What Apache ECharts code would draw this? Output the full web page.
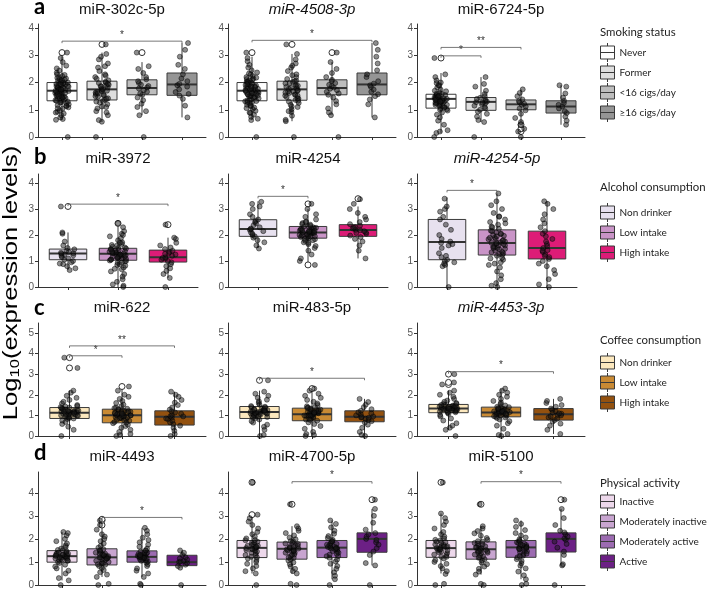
<!DOCTYPE html>
<html><head><meta charset="utf-8">
<script src="https://cdn.jsdelivr.net/npm/echarts@6/dist/echarts.min.js"></script>
<style>html,body{margin:0;padding:0;background:#fff}#c{width:708px;height:593px}</style>
</head><body><div id="c"></div><script>
// ---------- categories & tick labels ----------
const smokingCats = ['Never','Former','<16 cigs/day','≥16 cigs/day'];
const alcoholCats = ['Non drinker','Low intake','High intake'];
const coffeeCats = ['Non drinker','Low intake','High intake'];
const activityCats = ['Inactive','Moderately inactive','Moderately active','Active'];
const yTicks4 = [0,1,2,3,4];
const yTicks5 = [0,1,2,3,4,5];
const panelTitles = ['miR-302c-5p','miR-4508-3p','miR-6724-5p','miR-3972','miR-4254','miR-4254-5p','miR-622','miR-483-5p','miR-4453-3p','miR-4493','miR-4700-5p','miR-5100'];
const italicTitles = [false,true,false,false,false,true,false,false,true,false,false,false];
const legendTitles = ['Smoking status','Alcohol consumption','Coffee consumption','Physical activity'];
const panelLetters = ['a','b','c','d'];

// ---------- box stats [lower whisker, Q1, median, Q3, upper whisker] ----------
const a1Box = [[0.62,1.33,1.70,2.00,2.95],[0.55,1.36,1.75,2.05,3.10],[0.80,1.55,1.80,2.10,2.75],[0.72,1.53,1.93,2.35,3.45]];
const a2Box = [[0.62,1.33,1.70,2.00,2.95],[0.58,1.35,1.75,2.05,3.05],[0.80,1.55,1.80,2.10,2.75],[0.72,1.55,1.93,2.35,3.45]];
const a3Box = [[0.15,1.06,1.40,1.57,2.35],[0.55,0.98,1.29,1.45,2.20],[0.55,1.00,1.20,1.36,1.75],[0.45,0.88,1.12,1.33,1.90]];
const b1Box = [[0.65,1.05,1.29,1.46,2.10],[0,1.03,1.28,1.49,2.40],[0.35,0.96,1.15,1.42,1.90]];
const b2Box = [[1.50,1.95,2.23,2.59,3.30],[0.85,1.88,2.10,2.33,3.00],[1.10,1.95,2.19,2.40,3.10]];
const b3Box = [[0,1.05,1.73,2.60,3.45],[0,1.23,1.69,2.20,3.60],[0,1.08,1.50,2.15,3.30]];
const c1Box = [[0,0.85,1.13,1.38,2.20],[0,0.64,1.01,1.30,2.30],[0,0.53,0.93,1.22,2.15]];
const c2Box = [[0,0.85,1.16,1.43,2.20],[0,0.74,1.06,1.35,2.30],[0,0.69,0.93,1.22,1.80]];
const c3Box = [[0.30,1.13,1.33,1.53,2.20],[0,0.93,1.14,1.40,2.30],[0.10,0.77,1.05,1.33,1.80]];
const d1Box = [[0.20,0.99,1.25,1.49,2.30],[0.35,0.87,1.20,1.57,2.50],[0.35,0.99,1.22,1.48,2.48],[0.75,0.84,0.99,1.29,1.50]];
const d2Box = [[0.50,1.19,1.61,1.93,2.95],[0.50,1.12,1.57,1.86,2.55],[0.25,1.19,1.62,1.93,2.80],[0.85,1.42,2.00,2.26,3.30]];
const d3Box = [[0.50,1.20,1.60,1.93,3.10],[0.45,1.12,1.55,1.87,2.55],[0.25,1.20,1.63,1.93,2.80],[0.85,1.43,2.00,2.26,3.30]];

// ---------- outliers (open circles) ----------
const a1Out = [[3.1],[3.4],[3.1],[]];
const a2Out = [[3.1],[3.4],[3.1],[]];
const a3Out = [[2.9],[],[0.2,0.3,0.45],[]];
const b1Out = [[3.1],[2.45],[2.4]];
const b2Out = [[],[0.85,3.2],[3.4]];
const b3Out = [[],[],[]];
const c1Out = [[3.3,3.8],[2.4],[]];
const c2Out = [[2.7],[2.3],[]];
const c3Out = [[2.5,2.6,3.0],[],[]];
const d1Out = [[],[2.6,2.8,2.85],[],[]];
const d2Out = [[3.05,4.45],[3.5],[],[3.7]];
const d3Out = [[4.45],[3.5],[],[3.7]];

// ---------- individual points ----------
const a1Pts = [
 [0,0.63,0.66,0.72,0.8,0.86,0.93,0.98,1.04,1.09,1.13,1.17,1.2,1.24,1.28,1.3,1.34,1.37,1.4,1.43,1.45,1.48,1.51,1.54,1.57,1.59,1.62,1.64,1.67,1.69,1.72,1.75,1.77,1.8,1.82,1.85,1.88,1.91,1.94,1.97,2.0,2.03,2.07,2.11,2.15,2.19,2.24,2.3,2.36,2.44,2.52,2.62,2.75,2.9,3.1,1.55,1.73,1.6,1.84,1.41,1.95,
  1.15,1.35,1.52,1.66,1.78,1.9,2.02,2.12,1.26,1.46,1.58,1.7,1.81,1.99,2.17,2.28,1.05,0.9,1.62,1.74,1.87,1.5,1.33,1.95,2.08],
 [0,0.56,0.62,0.8,0.95,1.05,1.12,1.2,1.26,1.32,1.37,1.42,1.48,1.53,1.58,1.63,1.68,1.73,1.77,1.82,1.87,1.92,1.98,2.03,2.08,2.14,2.2,2.3,2.42,2.55,2.7,2.85,2.95,3.05,3.4,1.5,1.75,1.9,1.65,
  1.1,1.4,1.6,1.85,2.0,2.25,1.7,1.3,2.6,0.9,1.95,1.55],
 [0,0.8,0.95,1.1,1.22,1.35,1.45,1.55,1.6,1.66,1.72,1.78,1.82,1.87,1.92,1.98,2.05,2.12,2.2,2.35,2.5,2.6,3.1],
 [0.72,1.15,1.4,1.52,1.58,1.65,1.75,1.85,1.9,1.95,2.05,2.15,2.3,2.5,2.65,2.95,3.2,3.45]];
const a2Pts = [
 [0,0.62,0.67,0.74,0.82,0.9,0.96,1.03,1.08,1.13,1.18,1.23,1.27,1.31,1.34,1.38,1.42,1.45,1.49,1.52,1.56,1.59,1.62,1.65,1.68,1.71,1.74,1.77,1.8,1.83,1.86,1.89,1.93,1.96,2.0,2.04,2.08,2.13,2.18,2.24,2.3,2.37,2.45,2.55,2.65,2.78,2.9,3.1,1.58,1.72,1.64,1.82,1.45,1.98,
  1.16,1.36,1.5,1.64,1.79,1.91,2.03,2.14,1.28,1.47,1.57,1.69,1.83,2.0,2.2,2.33,1.06,0.88,1.61,1.75,1.86,1.53,1.32,1.94,2.1],
 [0,0.58,0.63,0.78,0.92,1.02,1.1,1.18,1.25,1.3,1.36,1.41,1.47,1.52,1.57,1.62,1.67,1.72,1.77,1.81,1.86,1.91,1.97,2.02,2.07,2.13,2.2,2.3,2.42,2.55,2.7,2.85,3.05,3.4,1.55,1.78,1.88,1.68,
  1.12,1.42,1.63,1.84,2.05,2.27,1.7,1.33,2.62,0.95,1.98,1.52],
 [0,0.8,0.9,1.05,1.2,1.32,1.45,1.55,1.6,1.66,1.72,1.77,1.82,1.87,1.92,1.98,2.05,2.1,2.2,2.35,2.5,2.75,3.1],
 [0.72,1.2,1.38,1.5,1.57,1.66,1.74,1.84,1.9,1.96,2.05,2.2,2.3,2.45,2.7,2.95,3.2,3.45]];
const a3Pts = [
 [0,0.15,0.2,0.25,0.45,0.6,0.72,0.82,0.9,0.97,1.02,1.06,1.1,1.14,1.18,1.22,1.26,1.3,1.33,1.36,1.39,1.42,1.45,1.48,1.51,1.54,1.58,1.62,1.68,1.74,1.82,1.9,1.98,2.08,2.2,2.3,2.9,1.25,1.4,1.35,1.5,1.2,1.44,
  1.15,1.28,1.38,1.46,1.55,1.32,1.24,1.42,1.6,1.7,1.08,1.0,1.36,1.48,1.18,1.9,2.0,1.52,1.3,1.4],
 [0,0.55,0.62,0.75,0.85,0.93,1.0,1.05,1.1,1.15,1.2,1.24,1.28,1.32,1.36,1.4,1.44,1.5,1.58,1.7,1.85,1.95,2.2,1.3,1.26],
 [0,0.2,0.3,0.45,0.55,0.7,0.85,0.98,1.05,1.12,1.18,1.22,1.27,1.32,1.38,1.5,1.62,1.75],
 [0.45,0.6,0.75,0.88,0.95,1.05,1.12,1.18,1.25,1.33,1.45,1.6,1.85,1.9]];
const b1Pts = [
 [0.65,0.72,0.8,0.88,0.95,1.0,1.05,1.1,1.15,1.2,1.25,1.28,1.3,1.35,1.4,1.45,1.5,1.6,1.75,2.05,2.1,3.1,1.22,0.9,1.32],
 [0,0.05,0.1,0.2,0.3,0.4,0.5,0.6,0.68,0.75,0.82,0.88,0.93,0.98,1.02,1.06,1.1,1.14,1.18,1.22,1.26,1.3,1.34,1.38,1.42,1.46,1.5,1.55,1.6,1.66,1.72,1.8,1.88,1.95,2.05,2.15,2.3,2.45,1.24,1.16,1.32,1.08,1.4,
  1.0,1.12,1.2,1.28,1.36,1.44,1.52,0.95,0.85,1.62,1.7,1.3,1.18,1.05,1.48,1.25,0.7,2.0,1.35,1.15],
 [0,0.35,0.5,0.62,0.72,0.8,0.88,0.95,1.0,1.05,1.1,1.15,1.2,1.25,1.3,1.35,1.4,1.46,1.52,1.6,1.7,1.85,1.9,2.4,1.12,1.28]];
const b2Pts = [
 [1.48,1.6,1.72,1.8,1.9,1.95,2.0,2.05,2.1,2.15,2.2,2.22,2.25,2.3,2.38,2.45,2.5,2.55,2.6,2.7,2.8,3.0,3.1,3.2,3.28],
 [0.85,1.0,1.1,1.25,1.4,1.5,1.58,1.65,1.72,1.78,1.84,1.88,1.92,1.96,2.0,2.03,2.06,2.09,2.12,2.15,2.18,2.22,2.26,2.3,2.34,2.4,2.46,2.52,2.6,2.7,2.8,3.0,3.2,2.1,2.0,2.2,1.95,2.14,
  1.9,1.98,2.05,2.11,2.17,2.24,2.28,2.36,1.85,1.8,2.42,2.02,2.13,2.2,1.7,2.5,2.08,1.94,2.32,2.16],
 [1.1,1.4,1.6,1.75,1.85,1.92,1.98,2.05,2.1,2.15,2.2,2.25,2.3,2.36,2.42,2.5,2.6,2.7,2.85,3.0,3.2,3.38,2.18,2.08,2.28]];
const b3Pts = [
 [0,0.8,0.85,0.9,1.0,1.05,1.15,1.3,1.5,1.6,1.7,1.75,1.85,2.0,2.2,2.4,2.6,2.7,2.9,3.0,3.1,3.4,1.2,0.95,1.65],
 [0,0.05,0.15,0.3,0.45,0.6,0.75,0.85,0.95,1.05,1.12,1.2,1.27,1.34,1.4,1.47,1.54,1.6,1.66,1.72,1.78,1.84,1.9,1.97,2.04,2.1,2.17,2.24,2.32,2.4,2.5,2.6,2.72,2.85,3.0,3.15,3.3,3.6,1.7,1.5,1.9,1.3,
  1.45,1.55,1.65,1.75,1.85,2.0,2.15,1.25,1.35,1.6,2.3,2.45,1.1,1.8,0.9,2.7,1.95,1.5,2.05,1.7],
 [0,0.1,0.3,0.5,0.65,0.8,0.9,1.0,1.08,1.15,1.25,1.35,1.42,1.5,1.58,1.66,1.75,1.85,1.95,2.05,2.15,2.3,2.45,2.6,2.8,3.0,3.2,3.3,1.4,1.2]];
const c1Pts = [
 [0,0.3,0.45,0.58,0.68,0.75,0.82,0.87,0.92,0.96,1.0,1.04,1.08,1.12,1.15,1.18,1.22,1.26,1.3,1.34,1.38,1.43,1.5,1.58,1.66,1.75,1.85,1.95,2.1,2.2,3.3,3.8,1.1,1.2,1.0,1.16,0.9,
  1.05,1.14,1.2,1.24,1.28,1.1,0.98,1.32,1.4,0.85,1.06,1.18,1.45,0.95,1.22],
 [0,0.05,0.1,0.2,0.3,0.4,0.48,0.55,0.62,0.68,0.74,0.8,0.86,0.92,0.97,1.02,1.07,1.12,1.17,1.22,1.27,1.32,1.38,1.45,1.52,1.6,1.7,1.8,1.9,2.0,2.2,2.4,1.0,0.9,1.1,0.8,1.15,
  0.9,0.95,1.05,1.0,1.1,1.2,0.85,0.75,1.25,1.3,0.65,1.15,0.98,1.35,1.08],
 [0,0.1,0.25,0.4,0.5,0.58,0.66,0.74,0.82,0.9,0.96,1.02,1.08,1.14,1.2,1.28,1.38,1.5,1.62,1.75,1.9,2.0,2.15,0.95,0.85]];
const c2Pts = [
 [0,0.05,0.3,0.45,0.55,0.65,0.72,0.8,0.86,0.92,0.97,1.02,1.06,1.1,1.14,1.18,1.22,1.26,1.3,1.35,1.4,1.45,1.52,1.6,1.68,1.76,1.85,1.95,2.05,2.15,2.7,1.2,1.1,1.28,1.0,
  1.0,1.08,1.12,1.16,1.24,1.3,1.2,1.05,1.38,0.9,1.42,1.15,1.28,0.95,1.22],
 [0,0.05,0.1,0.2,0.35,0.48,0.58,0.66,0.74,0.8,0.86,0.92,0.97,1.02,1.06,1.1,1.14,1.18,1.23,1.28,1.33,1.38,1.44,1.5,1.58,1.66,1.75,1.85,1.95,2.05,2.2,2.3,1.08,1.0,1.15,0.95,1.2,
  1.0,1.04,1.12,1.16,1.2,0.9,1.25,1.3,0.84,1.08,1.36,0.98,1.14,0.78,1.4],
 [0,0.05,0.2,0.4,0.55,0.65,0.72,0.78,0.84,0.9,0.95,1.0,1.05,1.1,1.15,1.22,1.3,1.4,1.52,1.65,1.8,0.92,0.88]];
const c3Pts = [
 [0,0.3,0.4,0.5,0.62,0.75,0.85,0.95,1.02,1.08,1.13,1.17,1.21,1.25,1.28,1.31,1.34,1.37,1.4,1.43,1.47,1.51,1.55,1.6,1.66,1.72,1.8,1.9,2.0,2.1,2.2,2.5,2.6,3.0,1.3,1.36,1.26,1.45,
  1.22,1.3,1.35,1.4,1.27,1.33,1.38,1.45,1.18,1.5,1.24,1.42,1.15,1.56,1.32],
 [0,0.05,0.1,0.35,0.5,0.62,0.72,0.8,0.87,0.93,0.98,1.03,1.08,1.12,1.16,1.2,1.24,1.28,1.32,1.37,1.42,1.48,1.55,1.62,1.7,1.8,1.9,2.0,2.1,2.2,2.3,1.15,1.1,1.22,
  1.05,1.1,1.14,1.18,1.22,1.26,1.0,0.96,1.3,1.35,0.9,1.4,1.16,1.2,1.08],
 [0.1,0.3,0.5,0.6,0.7,0.77,0.84,0.9,0.96,1.02,1.08,1.14,1.2,1.27,1.33,1.42,1.5,1.6,1.7,1.8,1.0,1.1]];
const d1Pts = [
 [0,0.2,0.3,0.5,0.62,0.72,0.8,0.88,0.95,1.0,1.05,1.1,1.14,1.18,1.22,1.26,1.3,1.34,1.38,1.42,1.47,1.52,1.58,1.65,1.72,1.8,1.9,2.0,2.15,2.25,2.3,1.2,1.28,1.15,1.35,
  1.24,1.3,1.16,1.36,1.1,1.4,1.2,1.06,1.5,1.28],
 [0,0.05,0.35,0.45,0.55,0.65,0.74,0.82,0.88,0.94,1.0,1.05,1.1,1.15,1.2,1.25,1.3,1.36,1.42,1.48,1.55,1.62,1.7,1.8,1.9,2.0,2.1,2.2,2.4,2.6,2.8,1.22,1.18,1.32,0.95,
  1.1,1.2,1.3,1.4,1.0,1.25,1.15,1.5,0.9,1.35],
 [0,0.05,0.35,0.5,0.62,0.72,0.82,0.9,0.97,1.02,1.07,1.12,1.16,1.2,1.24,1.28,1.32,1.36,1.4,1.45,1.5,1.58,1.66,1.75,1.85,1.95,2.05,2.2,2.35,2.48,1.25,1.15,1.3,
  1.1,1.2,1.26,1.34,1.18,1.4,1.05,1.5,1.22,1.3],
 [0,0.75,0.82,0.88,0.95,1.0,1.05,1.1,1.2,1.3,1.4,1.5,1.02,1.15]];
const d2Pts = [
 [0,0.5,0.6,0.72,0.82,0.92,1.0,1.08,1.15,1.22,1.3,1.38,1.45,1.52,1.58,1.64,1.7,1.76,1.82,1.88,1.94,2.02,2.1,2.2,2.3,2.45,2.6,2.75,2.9,3.05,4.45,1.6,1.55,1.7,
  1.4,1.5,1.62,1.75,1.85,1.3,1.95,1.2,1.66,1.56],
 [0,0.05,0.5,0.6,0.7,0.8,0.9,0.98,1.06,1.12,1.18,1.25,1.32,1.4,1.47,1.54,1.6,1.66,1.72,1.78,1.84,1.9,1.98,2.06,2.15,2.25,2.35,2.45,2.55,3.5,1.5,1.62,1.45,
  1.4,1.52,1.58,1.7,1.3,1.8,1.2,1.65,1.48,1.9],
 [0,0.25,0.4,0.55,0.7,0.82,0.92,1.02,1.1,1.18,1.25,1.32,1.4,1.47,1.54,1.6,1.66,1.72,1.78,1.84,1.9,1.96,2.04,2.12,2.22,2.35,2.5,2.65,2.8,1.62,1.58,
  1.45,1.55,1.65,1.7,1.8,1.35,1.9,1.25,1.6,1.75],
 [0,0.85,0.95,1.3,1.45,1.6,1.75,1.85,1.95,2.0,2.1,2.2,2.25,2.4,2.7,3.0,3.3,3.7]];
const d3Pts = [
 [0,0.05,0.48,0.6,0.72,0.82,0.92,1.0,1.08,1.15,1.22,1.3,1.38,1.45,1.52,1.58,1.64,1.7,1.76,1.82,1.88,1.94,2.02,2.1,2.2,2.3,2.45,2.6,2.75,2.9,3.1,4.45,1.6,1.52,1.68,
  1.42,1.5,1.63,1.74,1.86,1.32,1.96,1.22,1.66,1.55],
 [0,0.05,0.45,0.58,0.7,0.8,0.9,0.98,1.06,1.12,1.18,1.25,1.32,1.4,1.46,1.52,1.58,1.64,1.7,1.76,1.82,1.88,1.96,2.04,2.14,2.24,2.34,2.45,2.55,3.5,1.5,1.6,1.42,
  1.38,1.5,1.56,1.68,1.28,1.8,1.2,1.63,1.46,1.9],
 [0,0.05,0.25,0.42,0.58,0.72,0.84,0.94,1.04,1.12,1.2,1.27,1.34,1.41,1.48,1.55,1.61,1.67,1.73,1.79,1.85,1.91,1.98,2.06,2.15,2.25,2.38,2.52,2.65,2.8,1.64,1.58,
  1.46,1.56,1.66,1.72,1.82,1.36,1.9,1.26,1.6,1.76],
 [0,0.85,0.9,1.3,1.45,1.62,1.78,1.88,1.96,2.02,2.1,2.2,2.28,2.35,2.6,2.9,3.3,3.7]];

// ---------- significance brackets [from, to, y, label] ----------
const a1Sig = [[1,4,3.52,'*']];
const a2Sig = [[1,4,3.55,'*']];
const a3Sig = [[1,2,2.98,'*'],[1,3,3.29,'**']];
const b1Sig = [[1,3,3.19,'*']];
const b2Sig = [[1,2,3.49,'*']];
const b3Sig = [[1,2,3.72,'*']];
const c1Sig = [[1,2,3.89,'*'],[1,3,4.37,'**']];
const c2Sig = [[1,3,2.80,'*']];
const c3Sig = [[1,3,3.12,'*']];
const d1Sig = [[2,4,2.93,'*']];
const d2Sig = [[2,4,4.48,'*']];
const d3Sig = [[2,4,4.48,'*']];

// ---------- styles ----------
const smokingColors = ['#FFFFFF','#DEDEDE','#BDBDBD','#959595'];
const alcoholColors = ['#E7E1EF','#C994C7','#DD1C77'];
const coffeeColors = ['#FCE8BE','#C98A34','#93510F'];
const activityColors = ['#EDD8EB','#C8A5D0','#9C6BB1','#6C2085'];

// ---------- layout ----------
const colLeft = [38, 228, 417];
const rows = [
 {cats:smokingCats, colors:smokingColors, top:24, width:168, ymax:4.15, ticks:yTicks4, titleY:10, letterY:7, legTitleY:32, legTop:42.5},
 {cats:alcoholCats, colors:alcoholColors, top:174, width:160, ymax:4.35, ticks:yTicks4, titleY:159, letterY:157, legTitleY:187, legTop:202.5},
 {cats:coffeeCats, colors:coffeeColors, top:323, width:168, ymax:5.48, ticks:yTicks5, titleY:308, letterY:308, legTitleY:340, legTop:352.5},
 {cats:activityCats, colors:activityColors, top:472, width:168, ymax:4.9, ticks:yTicks4, titleY:457, letterY:453, legTitleY:483, legTop:491.5}
];
const PH = 113, BW = 0.375, JW = 0.17;
const boxes = [a1Box,a2Box,a3Box,b1Box,b2Box,b3Box,c1Box,c2Box,c3Box,d1Box,d2Box,d3Box];
const outs = [a1Out,a2Out,a3Out,b1Out,b2Out,b3Out,c1Out,c2Out,c3Out,d1Out,d2Out,d3Out];
const pts = [a1Pts,a2Pts,a3Pts,b1Pts,b2Pts,b3Pts,c1Pts,c2Pts,c3Pts,d1Pts,d2Pts,d3Pts];
const sigs = [a1Sig,a2Sig,a3Sig,b1Sig,b2Sig,b3Sig,c1Sig,c2Sig,c3Sig,d1Sig,d2Sig,d3Sig];

function jit(i){ const s = Math.sin((i+1)*12.9898)*43758.5453; return (s - Math.floor(s)) - 0.5; }

function boxRender(params, api){
  const x=api.value(0), lo=api.value(1), q1=api.value(2), md=api.value(3), q3=api.value(4), hi=api.value(5);
  const tl=api.coord([x-BW,q3]), br=api.coord([x+BW,q1]);
  const m1=api.coord([x-BW,md]), m2=api.coord([x+BW,md]);
  const ph=api.coord([x,hi]), pl=api.coord([x,lo]);
  const ln={stroke:'#3a3a3a', lineWidth:1};
  return {type:'group', children:[
    {type:'line', shape:{x1:ph[0],y1:ph[1],x2:ph[0],y2:tl[1]}, style:ln},
    {type:'line', shape:{x1:pl[0],y1:br[1],x2:pl[0],y2:pl[1]}, style:ln},
    {type:'rect', shape:{x:tl[0],y:tl[1],width:br[0]-tl[0],height:br[1]-tl[1]}, style:{fill:api.visual('color'), stroke:'#3a3a3a', lineWidth:1}},
    {type:'line', shape:{x1:m1[0],y1:m1[1],x2:m2[0],y2:m2[1]}, style:{stroke:'#333',lineWidth:2}}
  ]};
}
function sigRenderFor(sig){
  return function(params, api){
    const s = sig[params.dataIndex];
    const a=api.coord([s[0], s[2]]), b=api.coord([s[1], s[2]]);
    return {type:'group', children:[
      {type:'polyline', shape:{points:[[a[0],a[1]+2],[a[0],a[1]],[b[0],b[1]],[b[0],b[1]+2]]}, style:{stroke:'#555', fill:'none', lineWidth:0.8}},
      {type:'text', x:(a[0]+b[0])/2, y:a[1]-1, style:{text:s[3], fontSize:10, fontFamily:'Liberation Sans', fill:'#333', textAlign:'center', textVerticalAlign:'bottom'}}
    ]};
  };
}

const grid=[], xAxis=[], yAxis=[], series=[], graphic=[];
for (let k=0;k<12;k++){
  const r = rows[Math.floor(k/3)], c = k%3, n = r.cats.length;
  const catTicks = r.cats.map((_,j)=>j+1);
  grid.push({left:colLeft[c], top:r.top, width:r.width, height:PH});
  xAxis.push({type:'value', gridIndex:k, min:0.4, max:n+0.6,
    axisLine:{show:true, onZero:false, lineStyle:{color:'#333', width:1}},
    axisTick:{show:true, customValues:catTicks, length:3, lineStyle:{color:'#333'}},
    axisLabel:{show:false}, splitLine:{show:false}});
  yAxis.push({type:'value', gridIndex:k, min:0, max:r.ymax,
    axisLine:{show:true, lineStyle:{color:'#333', width:1}},
    axisTick:{show:true, customValues:r.ticks, length:3, lineStyle:{color:'#333'}},
    axisLabel:{show:true, customValues:r.ticks, fontSize:10, color:'#555', margin:4, fontFamily:'Liberation Sans'},
    splitLine:{show:false}});
  boxes[k].forEach((b,j)=>{
    series.push({type:'custom', name:r.cats[j], xAxisIndex:k, yAxisIndex:k, silent:true, z:2,
      itemStyle:{color:r.colors[j]}, data:[[j+1].concat(b)], renderItem:boxRender});
  });
  const od=[]; outs[k].forEach((arr,j)=>arr.forEach(v=>od.push([j+1,v])));
  series.push({type:'scatter', xAxisIndex:k, yAxisIndex:k, silent:true, z:3, symbolSize:6,
    itemStyle:{color:'#fff', borderColor:'#333', borderWidth:1, opacity:1}, data:od});
  const pd=[]; pts[k].forEach((arr,j)=>arr.forEach((v,i)=>pd.push([j+1+jit(i+j*97+k*13)*2*JW, v])));
  series.push({type:'scatter', xAxisIndex:k, yAxisIndex:k, silent:true, z:4, symbolSize:5,
    itemStyle:{color:'rgba(25,25,25,0.62)', borderColor:'rgba(0,0,0,0.8)', borderWidth:0.7}, data:pd});
  series.push({type:'custom', xAxisIndex:k, yAxisIndex:k, silent:true, z:5,
    data:sigs[k].map(s=>[s[0], s[2]]), renderItem:sigRenderFor(sigs[k])});
  graphic.push({type:'text', x:colLeft[c]+r.width/2, y:r.titleY,
    style:{text:panelTitles[k], font:(italicTitles[k]?'italic ':'')+'15px "Liberation Sans"', fill:'#111', textAlign:'center', textVerticalAlign:'middle'}});
}
rows.forEach((r,i)=>{
  graphic.push({type:'text', x:34, y:r.letterY, style:{text:panelLetters[i], font:'bold 22px Lato', fill:'#000', textAlign:'left', textVerticalAlign:'middle'}});
  graphic.push({type:'text', x:600, y:r.legTitleY, style:{text:legendTitles[i], font:'11.4px Lato', fill:'#222', textAlign:'left', textVerticalAlign:'middle'}});
});
graphic.push({type:'text', x:11, y:283, rotation:Math.PI/2, scaleX:1.28,
  style:{text:'{a|Log}{s|10}{a|(expression levels)}', textAlign:'center', textVerticalAlign:'middle',
    rich:{a:{fontSize:20, fontFamily:'Liberation Sans', fill:'#000', lineHeight:24},
          s:{fontSize:13, fontFamily:'Liberation Sans', fill:'#000', lineHeight:24, padding:[8,0,0,0]}}}});

const legend = rows.map(r=>({
  orient:'vertical', left:600, top:r.legTop, itemWidth:14, itemHeight:19, itemGap:0, padding:0,
  icon:'path://M7,0L7,3M0,3L14,3L14,16L0,16ZM0,9.5L14,9.5M7,16L7,19',
  selectedMode:false,
  itemStyle:{borderColor:'#3a3a3a', borderWidth:1},
  textStyle:{fontFamily:'Lato', fontSize:10, color:'#222'},
  data:r.cats.map((c,j)=>({name:c, itemStyle:{color:r.colors[j]}}))
}));

const chart = echarts.init(document.getElementById('c'), null, {renderer:'canvas'});
chart.setOption({animation:false, backgroundColor:'#fff', grid, xAxis, yAxis, series, graphic, legend});
</script></body></html>
